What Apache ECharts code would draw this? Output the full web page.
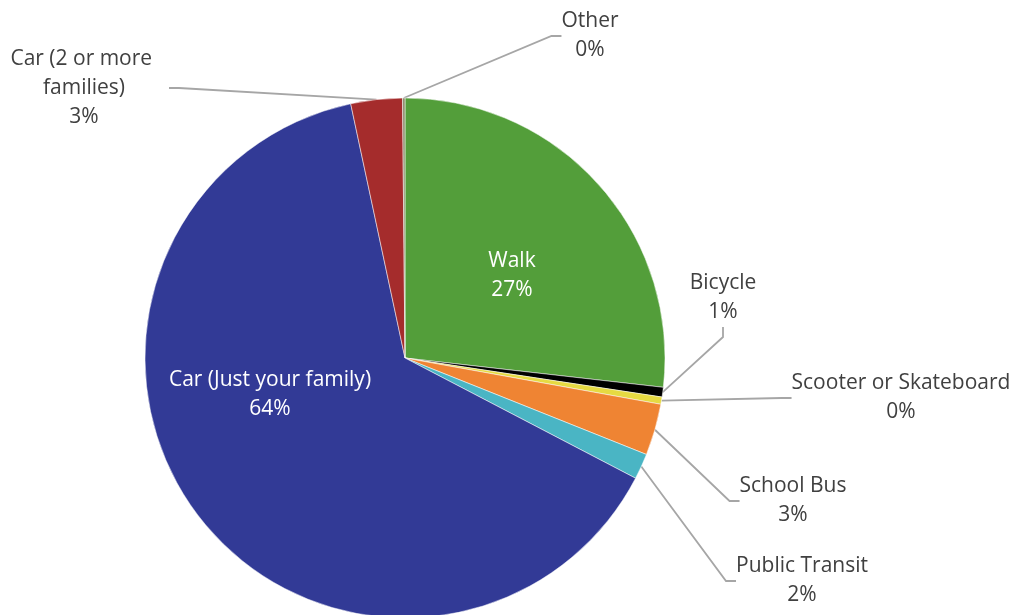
<!DOCTYPE html>
<html lang="en">
<head>
    <meta charset="UTF-8">
    <title>Travel mode</title>
    <script src="https://cdn.jsdelivr.net/npm/echarts@6/dist/echarts.min.js"></script>
    <style>
        html, body { margin: 0; padding: 0; background: #fff; }
        #pie { width: 1021px; height: 615px; }
    </style>
</head>
<body>
<div id="pie"></div>
<script>
    // slices, clockwise from 12 o'clock
    var modes = ['Walk', 'Bicycle', 'Scooter or Skateboard', 'School Bus', 'Public Transit',
        'Car (Just your family)', 'Car (2 or more families)', 'Other'];
    var shares = [26.8, 0.6, 0.45, 3.2, 1.6, 64.0, 3.2, 0.15];
    var colors = ['#539e3a', '#000000', '#e6da42', '#ef8433', '#4ab5c4', '#323a96', '#a52c2c', '#8a8a6a'];

    // where each label block sits (center), like the original sheet
    var labelPos = [[512, 276], [723, 298], [901, 398], [793, 501], [802, 581],
        [270, 395], [84, 88], [590, 36]];
    var insideLabel = [true, false, false, false, false, true, false, false];

    (function () {
        var chart = echarts.init(document.getElementById('pie'));

        var data = modes.map(function (m, i) {
            var item = {
                name: m,
                value: shares[i],
                itemStyle: {color: colors[i]}
            };
            if (insideLabel[i]) {
                item.label = {color: '#ffffff'};
                item.labelLine = {show: false};
            }
            if (i === 6) {
                item.label = {width: 170, overflow: 'break'};
            }
            return item;
        });

        chart.setOption({
            animation: false,
            series: [{
                type: 'pie',
                center: [405, 358],
                radius: 260,
                startAngle: 90,
                clockwise: true,
                avoidLabelOverlap: false,
                itemStyle: {borderColor: '#ffffff', borderWidth: 0.5},
                label: {
                    show: true,
                    position: 'outside',
                    fontFamily: 'Open Sans',
                    fontSize: 21,
                    lineHeight: 29,
                    color: '#404040',
                    align: 'center',
                    formatter: function (p) {
                        return p.name + '\n' + Math.round(p.percent) + '%';
                    }
                },
                labelLine: {
                    show: true,
                    length: 10,
                    length2: 10,
                    lineStyle: {color: '#a6a6a6', width: 1.8}
                },
                labelLayout: function (p) {
                    var pos = labelPos[p.dataIndex];
                    return {x: pos[0], y: pos[1], align: 'center', verticalAlign: 'middle'};
                },
                data: data
            }]
        });
    })();
</script>
</body>
</html>
